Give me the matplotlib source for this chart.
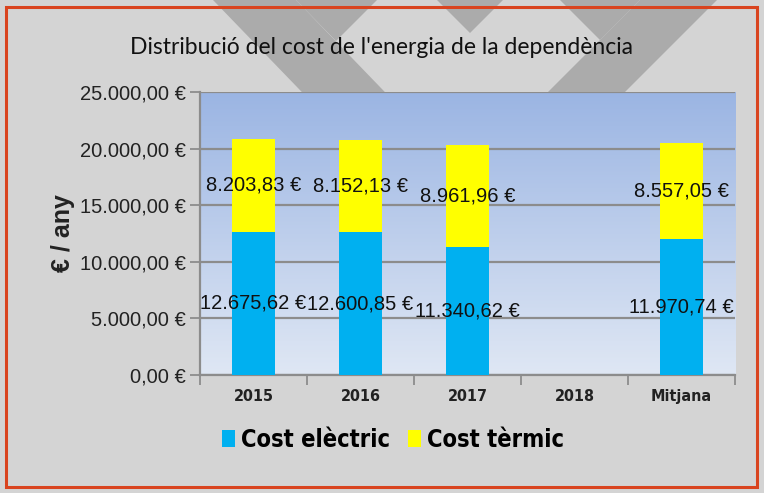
import numpy as np
import matplotlib.pyplot as plt
from matplotlib.patches import Polygon, Rectangle
from matplotlib.colors import LinearSegmentedColormap

# data
categories = ['2015', '2016', '2017', '2018', 'Mitjana']
cost_electric = [12675.62, 12600.85, 11340.62, 0, 11970.74]
cost_thermal = [8203.83, 8152.13, 8961.96, 0, 8557.05]
y_ticks = [0, 5000, 10000, 15000, 20000, 25000]


def euro(v):
    s = f"{v:,.2f}".replace(',', 'X').replace('.', ',').replace('X', '.')
    return s + ' €'


W, H = 764, 493
fig = plt.figure(figsize=(W / 100, H / 100), dpi=100)
fig.patch.set_facecolor('#d4d4d4')

# background logo shapes (pixel coords, y from top)
gray = '#ababab'
shapes = [
    [(213, 0), (296, 0), (520, 232), (437, 232)],   # left arm
    [(296, 0), (377, 0), (336, 41)],
    [(437, 0), (503, 0), (470, 33)],
    [(560, 0), (640, 0), (600, 40)],
    [(640, 0), (717, 0), (485, 232), (408, 232)],   # right arm
]
for pts in shapes:
    fig.patches.append(Polygon([(x, H - y) for x, y in pts], closed=True,
                               facecolor=gray, edgecolor='none',
                               transform=None, zorder=-5))

fig.patches.append(Rectangle((6, 6), W - 13, H - 13, fill=False,
                             edgecolor='#d9441f', linewidth=2.2,
                             transform=None, zorder=5))

ax = fig.add_axes([200 / W, 118 / H, 535 / W, 283 / H])
ax.set_zorder(1)
ax.set_facecolor('none')

# gradient plot area
cmap = LinearSegmentedColormap.from_list('g', ['#dfe7f4', '#9bb5e3'])
ax.imshow(np.linspace(0, 1, 256).reshape(-1, 1), cmap=cmap, aspect='auto',
          extent=[0, 1, 0, 1], origin='lower', transform=ax.transAxes,
          zorder=0)

narrow = dict(family='DejaVu Sans', stretch='condensed', weight='bold')

x = np.arange(len(categories))
ax.bar(x, cost_electric, width=0.4, color='#00b0f0', zorder=3,
       label='Cost elèctric')
ax.bar(x, cost_thermal, width=0.4, bottom=cost_electric, color='#ffff00',
       zorder=3, label='Cost tèrmic')

lab_font = dict(family='Liberation Sans', fontsize=14.5, color='#111111',
                ha='center', va='center', zorder=4)
for i in range(len(categories)):
    if cost_electric[i] == 0 and cost_thermal[i] == 0:
        continue
    ax.text(x[i], cost_electric[i] / 2, euro(cost_electric[i]), **lab_font)
    ax.text(x[i], cost_electric[i] + cost_thermal[i] / 2,
            euro(cost_thermal[i]), **lab_font)

ax.set_xlim(-0.5, len(categories) - 0.5)
ax.set_ylim(0, 25000)
ax.set_yticks(y_ticks)
ax.set_yticklabels([euro(v) for v in y_ticks], family='Liberation Sans',
                   fontsize=14.5, color='#222222')
ax.yaxis.grid(True, color='#8c8c8c', linewidth=1.6, zorder=1)
ax.set_axisbelow(True)

ax.set_xticks(x)
ax.set_xticklabels(categories, fontsize=11.5, color='#222222', **narrow)
ax.set_xticks(np.arange(-0.5, len(categories)), minor=True)
ax.tick_params(axis='x', which='major', length=0, pad=10)
ax.tick_params(axis='x', which='minor', length=7, color='#8c8c8c', width=1.3)
ax.tick_params(axis='y', length=7, color='#8c8c8c', width=1.3, pad=3)

for s in ['top', 'right']:
    ax.spines[s].set_visible(False)
for s in ['left', 'bottom']:
    ax.spines[s].set_color('#8c8c8c')
    ax.spines[s].set_linewidth(1.6)

ax.set_ylabel('€ / any', family='Liberation Sans', fontweight='bold',
              fontsize=18, color='#222222', labelpad=4)

fig.text(382 / W, 1 - 48 / H, "Distribució del cost de l'energia de la dependència",
         family='Lato', fontsize=16.5, color='#111111', ha='center', va='center')

fig.legend(loc='center', bbox_to_anchor=(393 / W, 1 - 440 / H), ncol=2,
           frameon=False, handlelength=0.55, handleheight=0.75,
           handletextpad=0.25, columnspacing=0.8,
           prop=dict(size=17, **narrow))

fig.savefig('out.png', dpi=100)
